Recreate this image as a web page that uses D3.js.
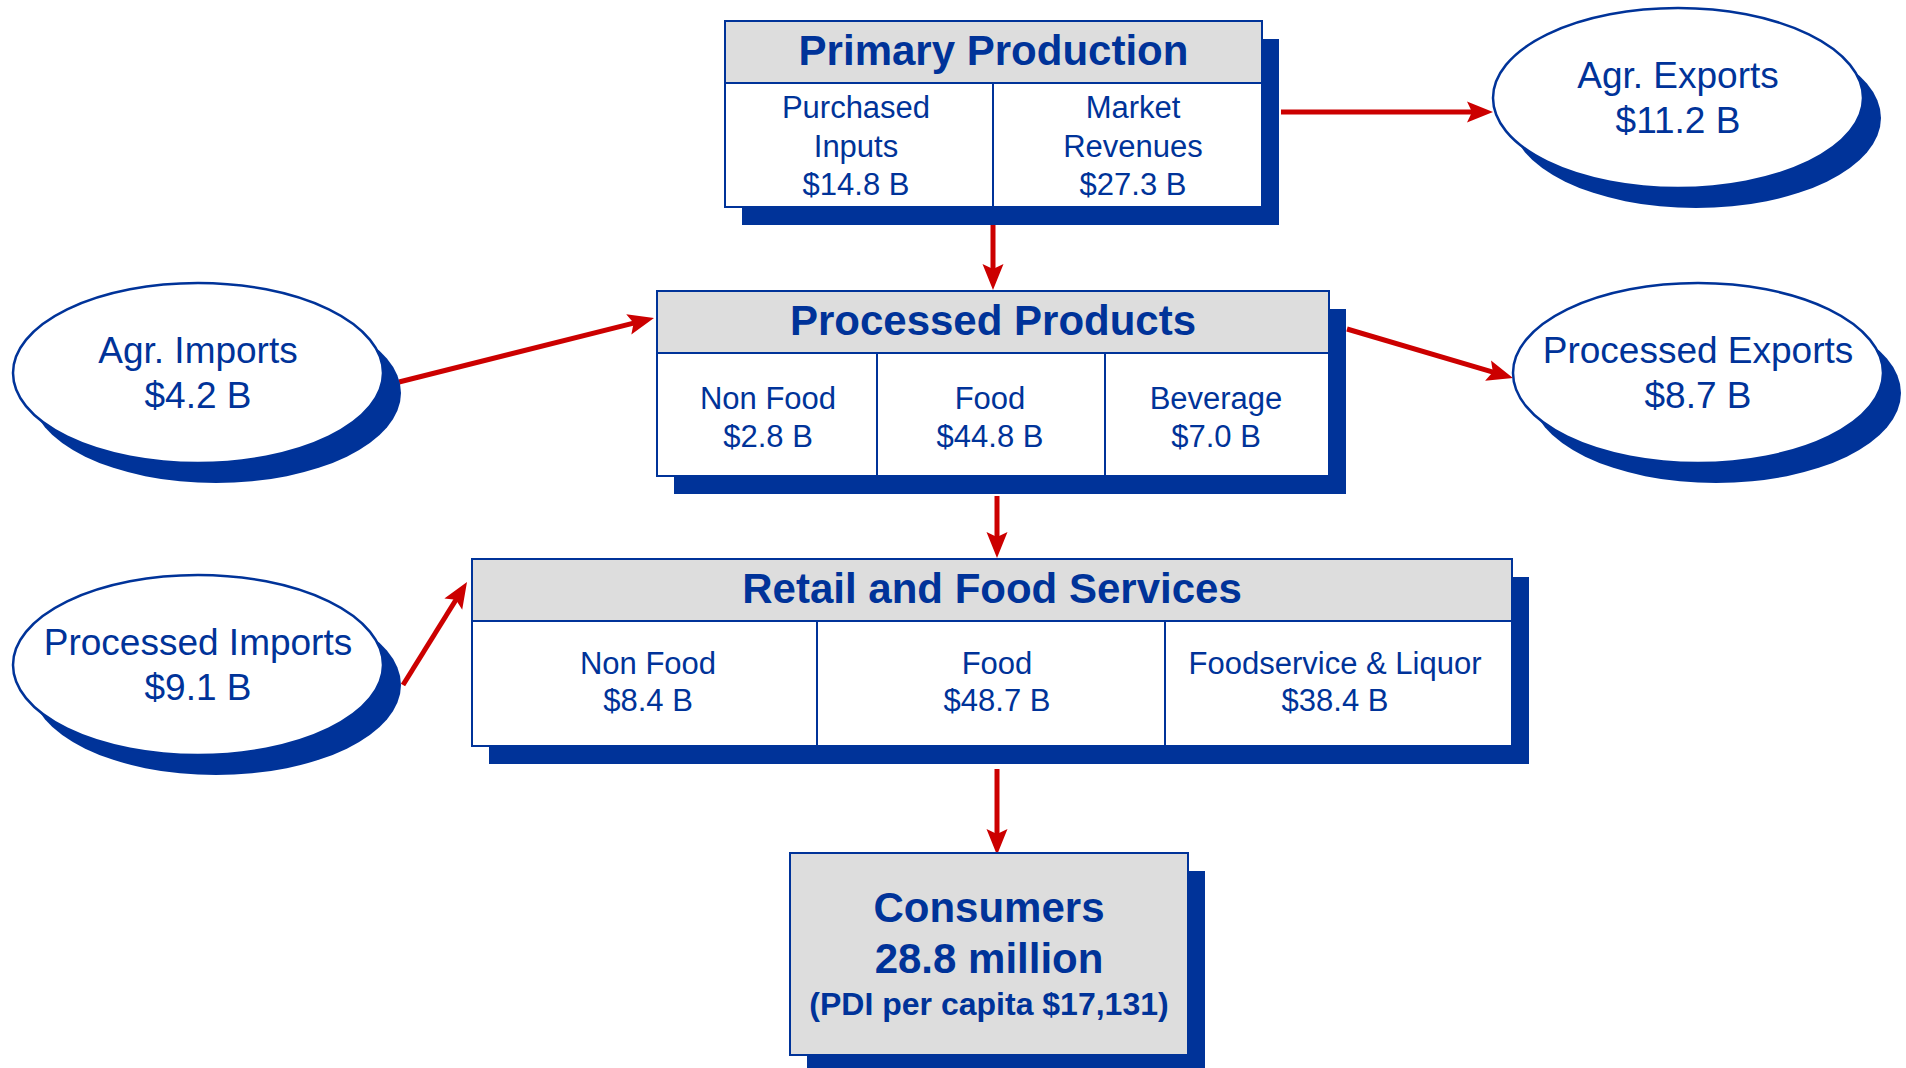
<html>
<head>
    <title>Agri-food flow</title>
    <script src="https://d3js.org/d3.v7.min.js"></script>
    <style>
        body { margin: 0; background: #fff; }
        text { font-family: "Liberation Sans", Arial, sans-serif; fill: #003399; }
    </style>
</head>
<body>
<svg id="flow" width="1906" height="1068"></svg>
<script>
// ---- data ----
const boxTitles = ["Primary Production", "Processed Products", "Retail and Food Services"];
const primaryCells = [["Purchased", "Inputs", "$14.8 B"], ["Market", "Revenues", "$27.3 B"]];
const processedCells = [["Non Food", "$2.8 B"], ["Food", "$44.8 B"], ["Beverage", "$7.0 B"]];
const retailCells = [["Non Food", "$8.4 B"], ["Food", "$48.7 B"], ["Foodservice & Liquor", "$38.4 B"]];
const ovalLabels = ["Agr. Exports", "Agr. Imports", "Processed Exports", "Processed Imports"];
const ovalValues = ["$11.2 B", "$4.2 B", "$8.7 B", "$9.1 B"];
const consumerLines = ["Consumers", "28.8 million", "(PDI per capita $17,131)"];

// ---- layout (pixel space of the picture) ----
const svg = d3.select("svg#flow");
const width = +svg.attr("width");
const height = +svg.attr("height");
const x = d3.scaleLinear().domain([0, 1906]).range([0, width]);
const y = d3.scaleLinear().domain([0, 1068]).range([0, height]);

const blue = "#003399", red = "#cc0000", grey = "#dddddd";

const boxLayout = [
    {x0: 725, x1: 1262, y0: 21, yh: 83, y1: 207, cells: primaryCells, lines: [118, 157, 195], textX: [856, 1133]},
    {x0: 657, x1: 1329, y0: 291, yh: 353, y1: 476, cells: processedCells, lines: [409, 447], textX: [768, 990, 1216]},
    {x0: 472, x1: 1512, y0: 559, yh: 621, y1: 746, cells: retailCells, lines: [674, 711], textX: [648, 997, 1335]}
];
const dividers = [[993], [877, 1105], [817, 1165]];
const ovalCentres = [[1678, 98], [198, 373], [1698, 373], [198, 665]];
const arrows = [
    [993, 225, 993, 290],
    [1281, 112, 1493, 112],
    [399, 382, 654, 318],
    [1347, 329, 1513, 378],
    [997, 496, 997, 558],
    [403, 685, 467, 582],
    [997, 769, 997, 855]
];

const shadow = {dx: 17, dy: 18};
const ovalShadow = {dx: 18, dy: 20};

// ---- arrows ----
let arrowLayer = svg.append("g").attr("id", "arrows");
arrows.forEach(a => {
    const dx = a[2] - a[0], dy = a[3] - a[1];
    const len = Math.hypot(dx, dy);
    const ux = dx / len, uy = dy / len;
    arrowLayer.append("line")
        .attr("x1", x(a[0])).attr("y1", y(a[1]))
        .attr("x2", x(a[2] - ux * 20)).attr("y2", y(a[3] - uy * 20))
        .attr("stroke", red).attr("stroke-width", 5);
    arrowLayer.append("path")
        .attr("d", "M0,0L-26,-10.5L-21,0L-26,10.5Z")
        .attr("fill", red)
        .attr("transform", "translate(" + x(a[2]) + "," + y(a[3]) + ") rotate(" + (Math.atan2(dy, dx) * 180 / Math.PI) + ")");
});

// ---- boxes ----
let boxLayer = svg.append("g").attr("id", "boxes");
boxLayout.forEach((b, i) => {
    let g = boxLayer.append("g");
    g.append("rect")
        .attr("x", x(b.x0 + shadow.dx)).attr("y", y(b.y0 + shadow.dy))
        .attr("width", x(b.x1 - b.x0)).attr("height", y(b.y1 - b.y0))
        .attr("fill", blue);
    g.append("rect")
        .attr("x", x(b.x0)).attr("y", y(b.y0))
        .attr("width", x(b.x1 - b.x0)).attr("height", y(b.y1 - b.y0))
        .attr("fill", "#fff").attr("stroke", blue).attr("stroke-width", 2);
    g.append("rect")
        .attr("x", x(b.x0)).attr("y", y(b.y0))
        .attr("width", x(b.x1 - b.x0)).attr("height", y(b.yh - b.y0))
        .attr("fill", grey).attr("stroke", blue).attr("stroke-width", 2);
    g.append("text")
        .attr("x", x((b.x0 + b.x1) / 2)).attr("y", y((b.y0 + b.yh) / 2 + 13))
        .attr("text-anchor", "middle")
        .style("font-size", "42px").style("font-weight", "bold")
        .text(boxTitles[i]);

    dividers[i].forEach(dx => {
        g.append("line")
            .attr("x1", x(dx)).attr("x2", x(dx))
            .attr("y1", y(b.yh)).attr("y2", y(b.y1))
            .attr("stroke", blue).attr("stroke-width", 2);
    });
    b.cells.forEach((cell, j) => {
        cell.forEach((line, k) => {
            g.append("text")
                .attr("x", x(b.textX[j])).attr("y", y(b.lines[k]))
                .attr("text-anchor", "middle")
                .style("font-size", "31px")
                .text(line);
        });
    });
});

// ---- ovals ----
let ovalLayer = svg.append("g").attr("id", "ovals");
ovalLabels.forEach((label, i) => {
    const c = ovalCentres[i];
    ovalLayer.append("ellipse")
        .attr("cx", x(c[0] + ovalShadow.dx)).attr("cy", y(c[1] + ovalShadow.dy))
        .attr("rx", 185).attr("ry", 90)
        .attr("fill", blue);
    ovalLayer.append("ellipse")
        .attr("cx", x(c[0])).attr("cy", y(c[1]))
        .attr("rx", 185).attr("ry", 90)
        .attr("fill", "#fff").attr("stroke", blue).attr("stroke-width", 2.5);
    ovalLayer.append("text")
        .attr("x", x(c[0])).attr("y", y(c[1] - 10))
        .attr("text-anchor", "middle").style("font-size", "37px")
        .text(label);
    ovalLayer.append("text")
        .attr("x", x(c[0])).attr("y", y(c[1] + 34.5))
        .attr("text-anchor", "middle").style("font-size", "37px")
        .text(ovalValues[i]);
});

// ---- consumers ----
const cons = {x0: 790, x1: 1188, y0: 853, y1: 1055, lines: [922, 973, 1015], sizes: [42, 42, 32]};
let consLayer = svg.append("g").attr("id", "consumers");
consLayer.append("rect")
    .attr("x", x(cons.x0 + shadow.dx)).attr("y", y(cons.y0 + shadow.dy))
    .attr("width", x(cons.x1 - cons.x0)).attr("height", y(cons.y1 - cons.y0))
    .attr("fill", blue);
consLayer.append("rect")
    .attr("x", x(cons.x0)).attr("y", y(cons.y0))
    .attr("width", x(cons.x1 - cons.x0)).attr("height", y(cons.y1 - cons.y0))
    .attr("fill", grey).attr("stroke", blue).attr("stroke-width", 2);
consumerLines.forEach((line, k) => {
    consLayer.append("text")
        .attr("x", x((cons.x0 + cons.x1) / 2)).attr("y", y(cons.lines[k]))
        .attr("text-anchor", "middle")
        .style("font-size", cons.sizes[k] + "px").style("font-weight", "bold")
        .text(line);
});
</script>
</body>
</html>
